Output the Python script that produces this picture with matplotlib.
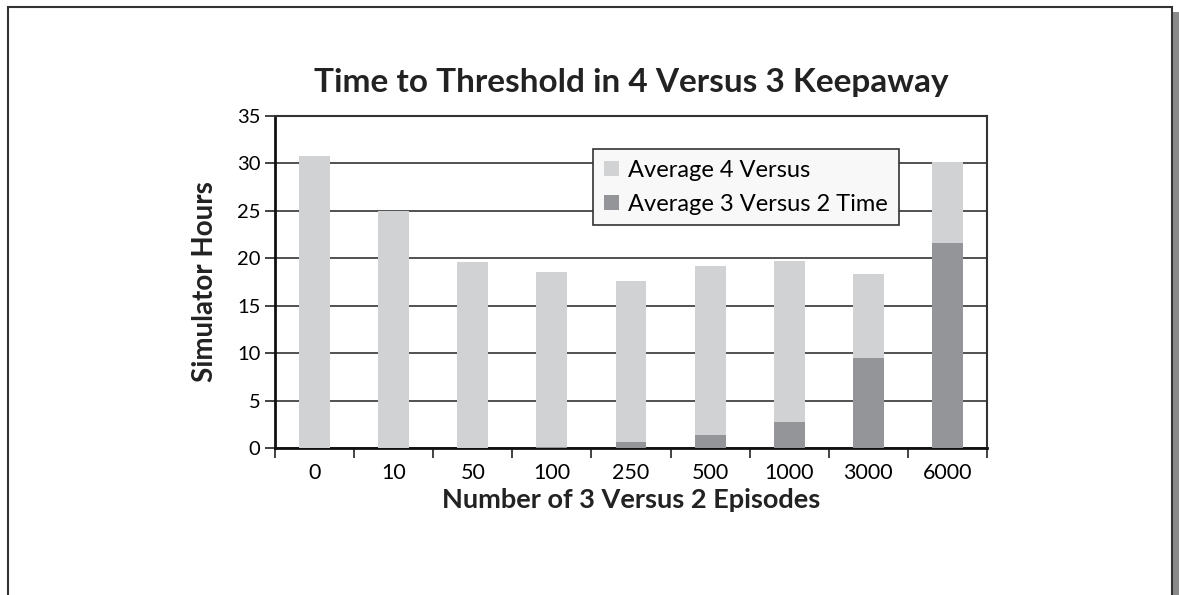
import matplotlib
matplotlib.use('Agg')
import matplotlib.pyplot as plt
from matplotlib.patches import Rectangle, Patch

# data
episodes = ['0', '10', '50', '100', '250', '500', '1000', '3000', '6000']
total_4v3 = [30.8, 25.0, 19.6, 18.6, 17.6, 19.2, 19.7, 18.3, 30.1]
time_3v2 = [0.0, 0.0, 0.0, 0.1, 0.6, 1.4, 2.7, 9.5, 21.6]
rest_4v3 = [t - d for t, d in zip(total_4v3, time_3v2)]

light = '#d1d2d4'
dark = '#939598'

plt.rcParams['font.family'] = ['Lato', 'DejaVu Sans']

fig = plt.figure(figsize=(11.79, 5.95), dpi=100)
W, H = 1179, 595

# page frame with a shadow on the right
fig.patches.append(Rectangle((1172 / W, -0.1), 7 / W, 1.1 - 12 / H, transform=fig.transFigure,
                             facecolor='#8a8a8a', edgecolor='none', zorder=0))
fig.patches.append(Rectangle((8 / W, -0.1), 1164 / W, 1.1 - 7 / H, transform=fig.transFigure,
                             facecolor='white', edgecolor='#333333', linewidth=1.5, zorder=1))

ax = fig.add_axes([275 / W, 1 - 448 / H, 712 / W, 332 / H])
ax.set_zorder(2)

x = list(range(len(episodes)))
ax.bar(x, time_3v2, width=0.39, color=dark, zorder=3)
ax.bar(x, rest_4v3, width=0.39, bottom=time_3v2, color=light, zorder=3)

ax.set_xlim(-0.5, len(episodes) - 0.5)
ax.set_ylim(0, 35)
ax.set_yticks(range(0, 36, 5))
ax.yaxis.grid(True, color='#333333', linewidth=1.2, zorder=1)
ax.set_axisbelow(True)

ax.set_xticks([i + 0.5 for i in range(-1, len(episodes))], minor=False)
ax.set_xticklabels([])
ax.set_xticks(x, minor=True)
ax.set_xticklabels(episodes, minor=True, fontsize=15.5)
ax.tick_params(axis='x', which='minor', length=0, pad=11)
ax.tick_params(axis='x', which='major', length=7, width=1.2, direction='out', color='#222222')
ax.tick_params(axis='y', length=7, width=1.2, direction='out', labelsize=14.5, color='#222222')

for side in ['left', 'bottom']:
    ax.spines[side].set_linewidth(2)
    ax.spines[side].set_color('#111111')
for side in ['top', 'right']:
    ax.spines[side].set_linewidth(1.5)
    ax.spines[side].set_color('#333333')

ax.set_xlabel('Number of 3 Versus 2 Episodes', fontsize=19.5, fontweight='bold', color='#222222')
ax.xaxis.set_label_coords(0.5, -0.12)
ax.set_ylabel('Simulator Hours', fontsize=20, fontweight='bold', color='#222222')
ax.yaxis.set_label_coords(-0.08, 0.5)
ax.set_title('Time to Threshold in 4 Versus 3 Keepaway', fontsize=24, fontweight='bold',
             color='#222222', pad=17)

handles = [Patch(facecolor=light, label='Average 4 Versus'),
           Patch(facecolor=dark, label='Average 3 Versus 2 Time')]
leg = ax.legend(handles=handles, loc='upper left', bbox_to_anchor=(318 / 712, 1 - 33 / 332),
                borderaxespad=0, fontsize=17, frameon=True, fancybox=False, handlelength=0.64,
                handleheight=0.64, handletextpad=0.4, borderpad=0.45, labelspacing=0.55)
leg.get_frame().set_edgecolor('#333333')
leg.get_frame().set_facecolor('#f8f8f8')
leg.get_frame().set_linewidth(1.2)
leg.get_frame().set_alpha(1)
leg.set_zorder(5)

fig.savefig('out.png', dpi=100)
